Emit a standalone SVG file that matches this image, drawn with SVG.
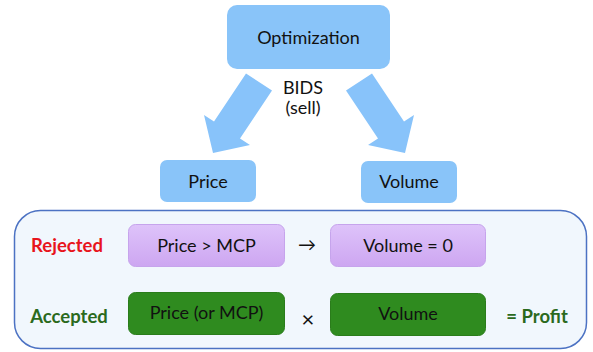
<svg xmlns="http://www.w3.org/2000/svg" width="593" height="352" viewBox="0 0 593 352">
  <style>
    text { font-family: Lato, "Open Sans", "Liberation Sans", sans-serif; text-anchor: middle; fill: #111; }
    .t { font-size: 18px; }
    .blue { fill: #89C4F9; }
    .purple { fill: url(#purpleGrad); stroke: #C6A4EC; stroke-width: 1; }
    .green { fill: #2F8B1F; stroke: #2A7C1B; stroke-width: 1; }
    .lbl { font-size: 18.5px; font-weight: bold; }
    .arrow { fill: #88C3FA; }
  </style>
  <defs>
    <linearGradient id="purpleGrad" x1="0" y1="0" x2="0" y2="1">
      <stop offset="0" stop-color="#DEC3FA"/>
      <stop offset="1" stop-color="#CDA6F1"/>
    </linearGradient>
  </defs>

  <!-- outer panel holding the outcome rows -->
  <rect id="panel" x="14.5" y="210.5" width="572" height="138" rx="26" fill="#F1F7FD" stroke="#4C72C3" stroke-width="1.5"/>

  <g id="connectors">
    <polygon class="arrow" points="246,73.6 272,90.4 240,138.4 250,145 213,153 204,115 214,121.6"/>
    <polygon class="arrow" points="372,73.6 346,90.4 378,138.4 368,145 405,153 414,115 404,121.6"/>
    <text class="t" x="307" y="251">→</text>
    <text x="308" y="327" style="font-size:22px">×</text>
  </g>

  <g id="optimization">
    <rect class="blue" x="227" y="5" width="163" height="64" rx="10"/>
    <text class="t" x="308.5" y="44">Optimization</text>
  </g>

  <g id="bids">
    <text class="t" x="303" y="94">BIDS</text>
    <text class="t" x="303" y="114">(sell)</text>
  </g>

  <g id="price">
    <rect class="blue" x="160" y="160" width="96" height="42" rx="7"/>
    <text class="t" x="208" y="188">Price</text>
  </g>

  <g id="volume">
    <rect class="blue" x="361" y="161" width="96" height="42" rx="7"/>
    <text class="t" x="409" y="188">Volume</text>
  </g>

  <g id="rejected">
    <text class="lbl" x="67" y="252" style="fill:#E8141C">Rejected</text>
  </g>

  <g id="price-gt-mcp">
    <rect class="purple" x="128.5" y="224.5" width="156" height="42" rx="7"/>
    <text class="t" x="206.5" y="252">Price &gt; MCP</text>
  </g>

  <g id="volume-zero">
    <rect class="purple" x="330.5" y="224.5" width="155" height="42" rx="7"/>
    <text class="t" x="408" y="252">Volume = 0</text>
  </g>

  <g id="accepted">
    <text class="lbl" x="69" y="323" style="fill:#2B6A1D">Accepted</text>
  </g>

  <g id="price-or-mcp">
    <rect class="green" x="128.5" y="292.5" width="156" height="42" rx="7"/>
    <text class="t" x="206.5" y="319">Price (or MCP)</text>
  </g>

  <g id="volume-accepted">
    <rect class="green" x="330.5" y="293.5" width="155" height="42" rx="7"/>
    <text class="t" x="408" y="320">Volume</text>
  </g>

  <g id="profit">
    <text class="lbl" x="537" y="323" style="fill:#2B6A1D">= Profit</text>
  </g>
</svg>
